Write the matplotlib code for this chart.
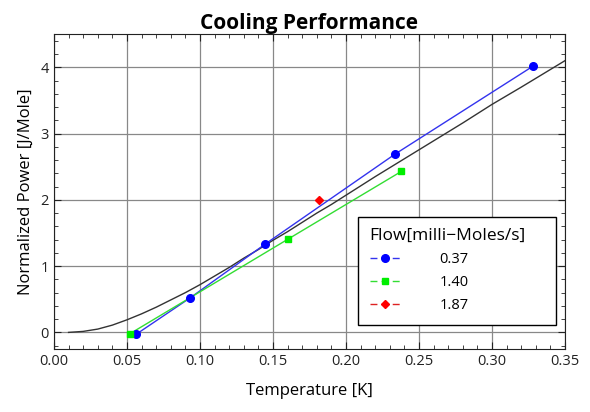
import matplotlib
matplotlib.use("Agg")
import matplotlib.pyplot as plt
from matplotlib.ticker import MultipleLocator

plt.rcParams['font.family'] = ['Open Sans', 'DejaVu Sans']

# theory curve
theory_T = [0.01, 0.02, 0.03, 0.04, 0.05, 0.06, 0.07, 0.08, 0.09, 0.10,
            0.11, 0.12, 0.13, 0.14, 0.15, 0.16, 0.17, 0.18, 0.19, 0.20,
            0.22, 0.24, 0.26, 0.28, 0.30, 0.32, 0.35]
theory_P = [0.0, 0.015, 0.05, 0.11, 0.19, 0.28, 0.38, 0.49, 0.60, 0.72,
            0.85, 0.98, 1.12, 1.25, 1.39, 1.52, 1.66, 1.80, 1.93, 2.07,
            2.35, 2.62, 2.89, 3.16, 3.44, 3.70, 4.10]

# measured points per flow rate
flow_labels = ["0.37", "1.40", "1.87"]
blue_T = [0.0562, 0.0932, 0.1445, 0.2336, 0.3283]
blue_P = [-0.03, 0.52, 1.33, 2.69, 4.02]
green_T = [0.052, 0.1605, 0.238]
green_P = [-0.02, 1.41, 2.43]
red_T = [0.1817]
red_P = [2.0]

fig = plt.figure(figsize=(5.9, 4.12), dpi=100)
ax = fig.add_axes([0.0915, 0.153, 0.866, 0.764])

ax.plot(theory_T, theory_P, color="#333333", lw=1.0, zorder=2)

series = [
    (blue_T, blue_P, "#3333ee", "#0000ff", "o", 5.5),
    (green_T, green_P, "#33dd33", "#00ee00", "s", 5),
    (red_T, red_P, "#dd2222", "#ff0000", "D", 4.5),
]
handles = []
for (t, p, lc, mc, mk, ms), lab in zip(series, flow_labels):
    ax.plot(t, p, color=lc, lw=1.0, zorder=3)
    ax.plot(t, p, ls="none", marker=mk, ms=ms, color=mc, zorder=4)
    h, = ax.plot([], [], color=lc, lw=1.0, ls=(0, (5, 3)), marker=mk,
                 ms=ms, mfc=mc, mec=mc, label=lab)
    handles.append(h)

ax.set_xlim(0, 0.35)
ax.set_ylim(-0.25, 4.5)
ax.xaxis.set_major_locator(MultipleLocator(0.05))
ax.xaxis.set_minor_locator(MultipleLocator(0.01))
ax.yaxis.set_major_locator(MultipleLocator(1))
ax.yaxis.set_minor_locator(MultipleLocator(0.2))
ax.xaxis.set_major_formatter(matplotlib.ticker.FormatStrFormatter("%.2f"))
ax.tick_params(which="both", direction="in", top=True, right=True,
               labelsize=10.5, colors="#222222")
ax.tick_params(which="major", length=5)
ax.tick_params(which="minor", length=3)
ax.grid(True, which="major", color="#888888", lw=0.9)
for s in ax.spines.values():
    s.set_color("#222222")

ax.set_title("Cooling Performance", fontsize=15, fontweight="bold", pad=2)
ax.set_xlabel("Temperature [K]", fontsize=12, labelpad=10)
ax.set_ylabel("Normalized Power [J/Mole]", fontsize=12, labelpad=5)

leg = ax.legend(handles=handles, title="Flow[milli\u2212Moles/s]", loc="lower left",
                bbox_to_anchor=(0.595, 0.076, 0.3875, 0.333), mode="expand",
                fontsize=10.5, title_fontsize=12.5,
                frameon=True, fancybox=False, edgecolor="black", framealpha=1,
                handlelength=2.1, handletextpad=2.7, labelspacing=0.55,
                borderpad=0.8, borderaxespad=0)
leg.get_frame().set_linewidth(1.0)
leg._legend_box.align = "left"

fig.savefig("out.png", dpi=100)
